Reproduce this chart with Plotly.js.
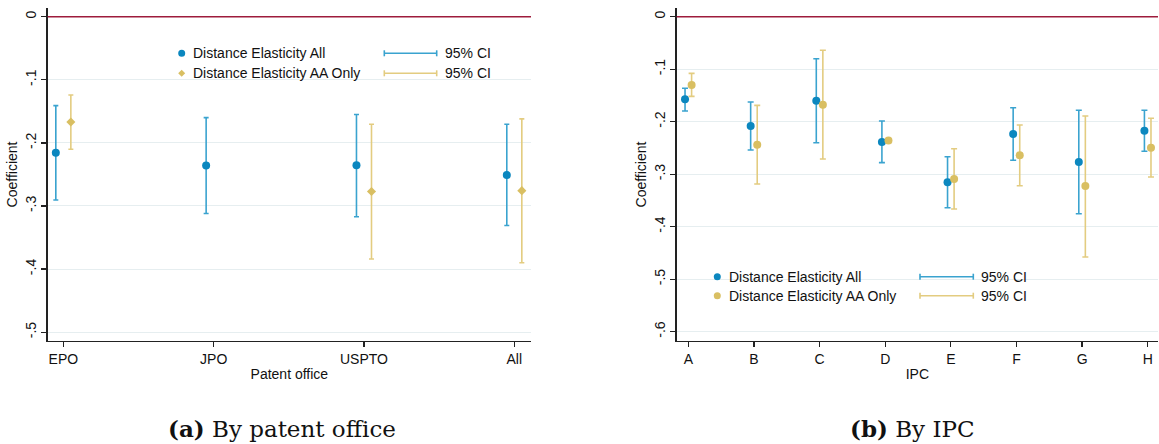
<!DOCTYPE html>
<html>
<head>
<meta charset="utf-8">
<script src="https://cdn.plot.ly/plotly-3.0.1.min.js"></script>
<style>
html,body{margin:0;padding:0;background:#fff;}
#chart{width:1159px;height:444px;}
</style>
</head>
<body>
<div id="chart"></div>
<script>
// ---------- Data: panel (a) by patent office ----------
const officeCats   = ['EPO', 'JPO', 'USPTO', 'All'];
const officeAllCoef = [-0.2155, -0.236, -0.2355, -0.251];
const officeAllLo   = [-0.2905, -0.312, -0.317, -0.331];
const officeAllHi   = [-0.141, -0.160, -0.155, -0.1705];
const officeAACoef  = [-0.167, null, -0.277, -0.2757];
const officeAALo    = [-0.210, null, -0.384, -0.390];
const officeAAHi    = [-0.124, null, -0.1705, -0.162];

// ---------- Data: panel (b) by IPC ----------
const ipcCats    = ['A', 'B', 'C', 'D', 'E', 'F', 'G', 'H'];
const ipcAllCoef = [-0.1574, -0.208, -0.160, -0.2387, -0.3155, -0.2234, -0.2768, -0.217];
const ipcAllLo   = [-0.1796, -0.254, -0.240, -0.278, -0.3638, -0.2735, -0.3752, -0.2564];
const ipcAllHi   = [-0.1364, -0.1625, -0.080, -0.1987, -0.2667, -0.1733, -0.1783, -0.1783];
const ipcAACoef  = [-0.130, -0.2438, -0.1676, -0.236, -0.309, -0.264, -0.3225, -0.2495];
const ipcAALo    = [-0.1517, -0.3187, -0.271, -0.2395, -0.3663, -0.322, -0.4577, -0.3053];
const ipcAAHi    = [-0.108, -0.1688, -0.064, -0.2325, -0.2514, -0.2063, -0.1891, -0.1935];

// ---------- Axis tick labels ----------
const yTicksA = [0, -0.1, -0.2, -0.3, -0.4, -0.5];
const yTextA  = ['0', '-.1', '-.2', '-.3', '-.4', '-.5'];
const yTicksB = [0, -0.1, -0.2, -0.3, -0.4, -0.5, -0.6];
const yTextB  = ['0', '-.1', '-.2', '-.3', '-.4', '-.5', '-.6'];

const seriesNames = ['Distance Elasticity All', 'Distance Elasticity AA Only'];
const ciLabel = '95% CI';
const captions = ['<b>(a)</b> By patent office', '<b>(b)</b> By IPC'];

// ---------- Styles ----------
const W = 1159, H = 444;
const BLUE = '#0b87bf', BLUE_CI = '#3aa3cf';
const GOLD = '#d9bf62', GOLD_CI = '#e3cc80';
const ZERO = '#9e1c3c';
const GRID = '#e6eef0';
const FONT = 'Liberation Sans, Arial, sans-serif';
const FS = 14;
const OFF = 0.05;

const px = v => v / W;
const py = v => 1 - v / H;

function errTrace(cats, coef, lo, hi, dir, color, ciColor, symbol, size, xa, ya, capw) {
  const xs = [], ys = [], up = [], dn = [];
  cats.forEach((c, i) => {
    if (coef[i] === null) return;
    xs.push(i + 1 + dir * OFF);
    ys.push(coef[i]);
    up.push(hi[i] - coef[i]);
    dn.push(coef[i] - lo[i]);
  });
  return {
    type: 'scatter', mode: 'markers', x: xs, y: ys, xaxis: xa, yaxis: ya,
    showlegend: false, hoverinfo: 'skip',
    marker: {color: color, size: size, symbol: symbol, line: {width: 0}},
    error_y: {type: 'data', symmetric: false, array: up, arrayminus: dn,
              color: ciColor, thickness: 1.6, width: capw}
  };
}

const traces = [
  errTrace(officeCats, officeAllCoef, officeAllLo, officeAllHi, -1, BLUE, BLUE_CI, 'circle', 8, 'x', 'y', 2.5),
  errTrace(officeCats, officeAACoef, officeAALo, officeAAHi, 1, GOLD, GOLD_CI, 'diamond', 7, 'x', 'y', 2.5),
  errTrace(ipcCats, ipcAllCoef, ipcAllLo, ipcAllHi, -1, BLUE, BLUE_CI, 'circle', 8, 'x2', 'y2', 3),
  errTrace(ipcCats, ipcAACoef, ipcAALo, ipcAAHi, 1, GOLD, GOLD_CI, 'circle', 8, 'x2', 'y2', 3)
];

const yDom = [(H - 341) / H, (H - 8) / H];

function xAxis(domain, cats, range, title) {
  return {
    domain: domain, range: range, tickmode: 'array',
    tickvals: cats.map((c, i) => i + 1), ticktext: cats,
    showgrid: false, zeroline: false, showline: true, linecolor: '#222', linewidth: 1.3,
    ticks: 'outside', ticklen: 5, tickcolor: '#222', tickwidth: 1.3,
    tickfont: {family: FONT, size: FS, color: '#111'},
    title: {text: title, font: {family: FONT, size: FS, color: '#111'}, standoff: 3},
    fixedrange: true
  };
}
function yAxis(anchor, ticks, text, range) {
  return {
    anchor: anchor, domain: yDom, range: range, tickmode: 'array',
    tickvals: ticks, ticktext: text, tickangle: -90,
    showgrid: true, gridcolor: GRID, gridwidth: 1, zeroline: false,
    showline: true, linecolor: '#222', linewidth: 1.3,
    ticks: 'outside', ticklen: 5, tickcolor: '#222', tickwidth: 1.3,
    tickfont: {family: FONT, size: FS, color: '#111'},
    title: {text: 'Coefficient', font: {family: FONT, size: FS, color: '#111'}, standoff: 2},
    fixedrange: true
  };
}

const shapes = [
  {type: 'line', xref: 'x domain', yref: 'y', x0: 0, x1: 1, y0: 0, y1: 0, line: {color: ZERO, width: 1.5}, layer: 'above'},
  {type: 'line', xref: 'x2 domain', yref: 'y2', x0: 0, x1: 1, y0: 0, y1: 0, line: {color: ZERO, width: 1.5}, layer: 'above'}
];
const annotations = [];

function legend(mx, my1, my2, goldSymbol, lx0, lx1) {
  const r = 3.5;
  shapes.push({type: 'circle', xref: 'paper', yref: 'paper',
    x0: px(mx - r), x1: px(mx + r), y0: py(my1 + r), y1: py(my1 - r),
    fillcolor: BLUE, line: {width: 0}});
  if (goldSymbol === 'diamond') {
    const d = 3.5;
    shapes.push({type: 'path', xref: 'paper', yref: 'paper',
      path: `M ${px(mx)} ${py(my2 - d)} L ${px(mx + d)} ${py(my2)} L ${px(mx)} ${py(my2 + d)} L ${px(mx - d)} ${py(my2)} Z`,
      fillcolor: GOLD, line: {width: 0}});
  } else {
    shapes.push({type: 'circle', xref: 'paper', yref: 'paper',
      x0: px(mx - r), x1: px(mx + r), y0: py(my2 + r), y1: py(my2 - r),
      fillcolor: GOLD, line: {width: 0}});
  }
  [[my1, seriesNames[0], BLUE_CI], [my2, seriesNames[1], GOLD_CI]].forEach(([yy, name, col]) => {
    annotations.push({xref: 'paper', yref: 'paper', x: px(mx + 9.5), y: py(yy), text: name,
      showarrow: false, xanchor: 'left', yanchor: 'middle',
      font: {family: FONT, size: FS, color: '#111'}});
    shapes.push({type: 'line', xref: 'paper', yref: 'paper', x0: px(lx0), x1: px(lx1), y0: py(yy), y1: py(yy), line: {color: col, width: 1.6}});
    shapes.push({type: 'line', xref: 'paper', yref: 'paper', x0: px(lx0), x1: px(lx0), y0: py(yy - 3), y1: py(yy + 3), line: {color: col, width: 1.6}});
    shapes.push({type: 'line', xref: 'paper', yref: 'paper', x0: px(lx1), x1: px(lx1), y0: py(yy - 3), y1: py(yy + 3), line: {color: col, width: 1.6}});
    annotations.push({xref: 'paper', yref: 'paper', x: px(lx1 + 6), y: py(yy), text: ciLabel,
      showarrow: false, xanchor: 'left', yanchor: 'middle',
      font: {family: FONT, size: FS, color: '#111'}});
  });
}
legend(181.7, 53.3, 73.3, 'diamond', 384.3, 436.7);
legend(717.3, 276.7, 295.7, 'circle', 920, 973.3);

annotations.push({xref: 'paper', yref: 'paper', x: px(282), y: py(428), text: captions[0],
  showarrow: false, xanchor: 'center', yanchor: 'middle',
  font: {family: 'DejaVu Serif, serif', size: 23, color: '#111'}});
annotations.push({xref: 'paper', yref: 'paper', x: px(912.5), y: py(428), text: captions[1],
  showarrow: false, xanchor: 'center', yanchor: 'middle',
  font: {family: 'DejaVu Serif, serif', size: 23, color: '#111'}});

const layout = {
  width: W, height: H,
  margin: {l: 0, r: 0, t: 0, b: 0},
  paper_bgcolor: '#fff', plot_bgcolor: '#fff',
  showlegend: false,
  xaxis: xAxis([47.7 / W, 531 / W], officeCats, [0.896, 4.111], 'Patent office'),
  yaxis: yAxis('x', yTicksA, yTextA, [-0.514, 0.0138]),
  xaxis2: xAxis([676.7 / W, 1158 / W], ipcCats, [0.823, 8.157], 'IPC'),
  yaxis2: yAxis('x2', yTicksB, yTextB, [-0.6177, 0.0166]),
  shapes: shapes,
  annotations: annotations
};
layout.xaxis.anchor = 'y';
layout.xaxis2.anchor = 'y2';

Plotly.newPlot('chart', traces, layout, {staticPlot: true, displayModeBar: false});
</script>
</body>
</html>
